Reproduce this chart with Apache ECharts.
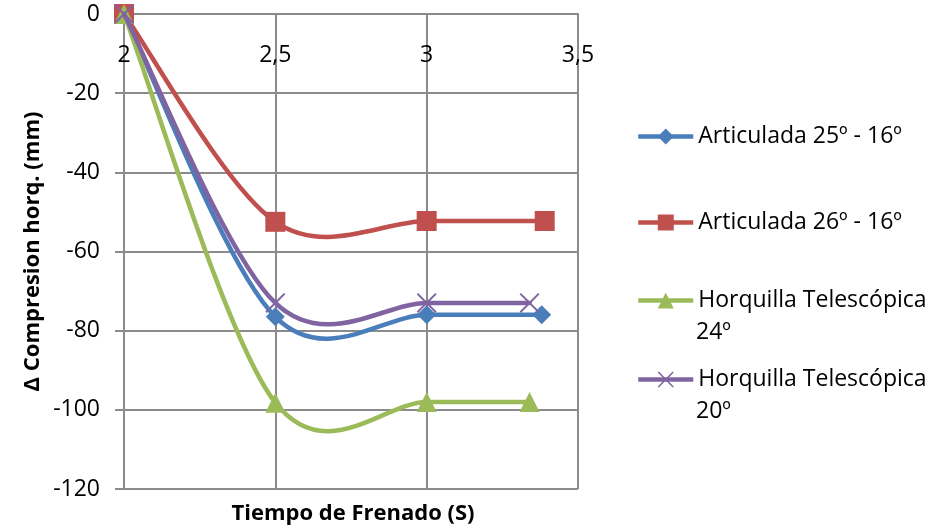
<!DOCTYPE html>
<html>
<head>
<meta charset="utf-8">
<script src="https://cdn.jsdelivr.net/npm/echarts@6/dist/echarts.min.js"></script>
<style>
  html, body { margin: 0; padding: 0; background: #ffffff; }
  #chart { width: 931px; height: 528px; }
</style>
</head>
<body>
<div id="chart"></div>
<script>
// Braking time (s) versus change in fork compression (mm)
const seriesNames = [
  'Articulada 25º - 16º',
  'Articulada 26º - 16º',
  'Horquilla Telescópica 24º',
  'Horquilla Telescópica 20º'
];
// legend text, split over lines where it wraps
const legendLines = [
  ['Articulada 25º - 16º'],
  ['Articulada 26º - 16º'],
  ['Horquilla Telescópica', '24º'],
  ['Horquilla Telescópica', '20º']
];

const timeArticulada25 = [2, 2.5, 3, 3.38];
const comprArticulada25 = [0, -76.5, -76, -76];

const timeArticulada26 = [2, 2.5, 3, 3.39];
const comprArticulada26 = [0, -52.5, -52.3, -52.3];

const timeHorquilla24 = [2, 2.5, 3, 3.34];
const comprHorquilla24 = [0, -98.2, -98, -98];

const timeHorquilla20 = [2, 2.5, 3, 3.34];
const comprHorquilla20 = [0, -73, -73, -73];

const xTicks = { min: 2, max: 3.5, step: 0.5 };
const yTicks = { min: -120, max: 0, step: 20 };

const colors = ['#4a7ebb', '#c0504d', '#9bbb59', '#8064a2'];
const FONT = 'Open Sans';
const GRAY = '#8b8b8b';
const LINE_W = 4.5;
const LEGEND_FONT = 23;

// thin diagonal cross marker
const t = 0.7;
const crossPath = 'path://M0,' + t + 'L' + t + ',0L5,' + (5 - t) + 'L' + (10 - t) + ',0L10,' + t +
  'L' + (5 + t) + ',5L10,' + (10 - t) + 'L' + (10 - t) + ',10L5,' + (5 + t) + 'L' + t + ',10L0,' +
  (10 - t) + 'L' + (5 - t) + ',5Z';

const pairs = (xs, ys) => xs.map((x, i) => [x, ys[i]]);
const seriesData = [
  pairs(timeArticulada25, comprArticulada25),
  pairs(timeArticulada26, comprArticulada26),
  pairs(timeHorquilla24, comprHorquilla24),
  pairs(timeHorquilla20, comprHorquilla20)
];
const symbols = ['diamond', 'rect', 'triangle', crossPath];
const symbolSizes = [19, 20, 20, 20];

const legendCenters = [135, 221, 299, 378];
const LEGEND_LEFT = 636;
const LEGEND_ICON_W = 55;
const LH = 33;

// Cardinal-spline curve through the points (tangent = (next - prev) / 6 per side),
// built in pixel space from the axis coordinates.
function curveRenderer(data, color) {
  return function (params, api) {
    if (params.dataIndex !== 0) return null;
    const p = data.map(d => api.coord(d));
    const n = p.length;
    const children = [];
    for (let k = 0; k < n - 1; k++) {
      const p0 = p[Math.max(k - 1, 0)];
      const p1 = p[k];
      const p2 = p[k + 1];
      const p3 = p[Math.min(k + 2, n - 1)];
      children.push({
        type: 'bezierCurve',
        shape: {
          x1: p1[0], y1: p1[1],
          cpx1: p1[0] + (p2[0] - p0[0]) / 6, cpy1: p1[1] + (p2[1] - p0[1]) / 6,
          cpx2: p2[0] - (p3[0] - p1[0]) / 6, cpy2: p2[1] - (p3[1] - p1[1]) / 6,
          x2: p2[0], y2: p2[1]
        },
        style: { stroke: color, lineWidth: LINE_W, fill: null, lineCap: 'round', lineJoin: 'round' }
      });
    }
    return { type: 'group', children };
  };
}

const chart = echarts.init(document.getElementById('chart'), null, { renderer: 'canvas' });

const curveSeries = seriesData.map((data, i) => ({
  name: 'curva-' + i,
  type: 'custom',
  data,
  encode: { x: 0, y: 1 },
  clip: false,
  silent: true,
  z: 2 + 2 * i,
  renderItem: curveRenderer(data, colors[i])
}));

const markerSeries = seriesNames.map((name, i) => ({
  name,
  type: 'line',
  data: seriesData[i],
  symbol: symbols[i],
  symbolSize: symbolSizes[i],
  showAllSymbol: true,
  lineStyle: { width: 0, opacity: 0, color: colors[i] },
  itemStyle: { color: colors[i] },
  z: 3 + 2 * i
}));

// wrapped second lines of the legend entries
const legendExtraLines = [];
legendLines.forEach((lines, i) => {
  lines.slice(1).forEach((txt, j) => {
    legendExtraLines.push({
      type: 'text',
      x: LEGEND_LEFT + LEGEND_ICON_W + 5,
      y: legendCenters[i] + LH * (j + 1),
      style: {
        text: txt,
        font: LEGEND_FONT + 'px "' + FONT + '"',
        fill: '#000',
        verticalAlign: 'middle',
        align: 'left'
      }
    });
  });
});

chart.setOption({
  animation: false,
  backgroundColor: '#ffffff',
  color: colors,
  textStyle: { fontFamily: FONT },
  grid: { left: 124, right: 353, top: 14, bottom: 39, containLabel: false },
  title: {
    text: 'Tiempo de Frenado (S)',
    left: 348,
    textAlign: 'center',
    top: 498,
    textStyle: { fontFamily: FONT, fontSize: 22, fontWeight: 'bold', color: '#000' }
  },
  graphic: legendExtraLines,
  xAxis: {
    type: 'value',
    position: 'top',
    min: xTicks.min,
    max: xTicks.max,
    interval: xTicks.step,
    axisLine: { onZero: false, lineStyle: { color: GRAY, width: 2 } },
    axisTick: { show: true, inside: true, length: 8, lineStyle: { color: GRAY, width: 2 } },
    splitLine: { show: true, lineStyle: { color: GRAY, width: 2 } },
    axisLabel: {
      inside: true,
      margin: 30,
      fontFamily: FONT,
      fontSize: 23,
      color: '#000',
      formatter: v => String(v).replace('.', ',')
    }
  },
  yAxis: {
    type: 'value',
    min: yTicks.min,
    max: yTicks.max,
    interval: yTicks.step,
    name: 'Δ Compresion horq. (mm)',
    nameLocation: 'middle',
    nameGap: 80,
    nameRotate: 90,
    nameTextStyle: { fontFamily: FONT, fontSize: 22, fontWeight: 'bold', color: '#000' },
    axisLine: { show: true, lineStyle: { color: GRAY, width: 2 } },
    axisTick: { show: true, length: 9, lineStyle: { color: GRAY, width: 2 } },
    splitLine: { show: true, lineStyle: { color: GRAY, width: 2 } },
    axisLabel: { margin: 24, fontFamily: FONT, fontSize: 23, color: '#000' }
  },
  legend: legendLines.map((lines, i) => ({
    data: [seriesNames[i]],
    left: LEGEND_LEFT,
    top: legendCenters[i] - 10,
    padding: 0,
    itemWidth: LEGEND_ICON_W,
    itemHeight: 20,
    itemGap: 0,
    selectedMode: false,
    lineStyle: { width: LINE_W, opacity: 1, color: colors[i] },
    formatter: () => lines[0],
    textStyle: { fontFamily: FONT, fontSize: LEGEND_FONT, color: '#000' }
  })),
  series: curveSeries.concat(markerSeries)
});
</script>
</body>
</html>
